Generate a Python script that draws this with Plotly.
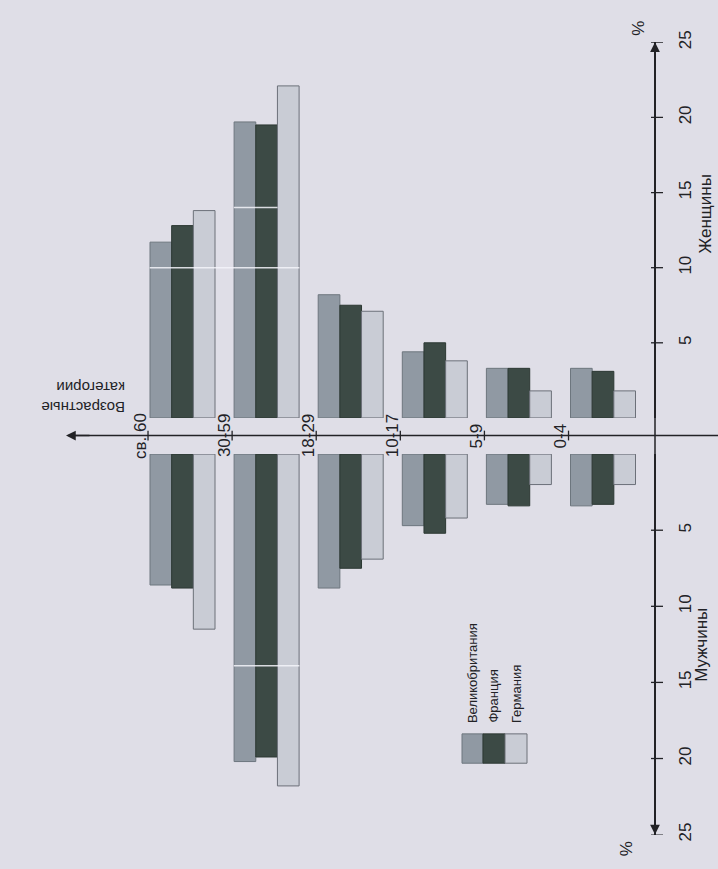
import plotly.graph_objects as go

# Age groups, oldest first
categories = ["св. 60", "30-59", "18-29", "10-17", "5-9", "0-4"]
countries = ["Великобритания", "Франция", "Германия"]

# Share of population, %
women_uk = [11.7, 19.7, 8.2, 4.4, 3.3, 3.3]
women_fr = [12.8, 19.5, 7.5, 5.0, 3.3, 3.1]
women_de = [13.8, 22.1, 7.1, 3.8, 1.8, 1.8]
men_uk = [8.6, 20.2, 8.8, 4.7, 3.3, 3.4]
men_fr = [8.8, 19.9, 7.5, 5.2, 3.4, 3.3]
men_de = [11.5, 21.8, 6.9, 4.2, 2.0, 2.0]

pct_ticks = [5, 10, 15, 20, 25]

W, H = 718, 869
BG = "#dfdee7"
INK = "#222226"
FONT = "Liberation Sans, Arial, sans-serif"
colors = ["#9099a3", "#3c4a45", "#c9ccd5"]
edges = ["#6d767e", "#2c3833", "#6c7079"]


def px(x):
    return x / W


def py(y):
    return 1 - y / H


idx = list(range(len(categories)))
AX_X = 655          # vertical (percent) axis position, px
AGE_Y = 433         # age axis position, px

fig = go.Figure()
for vals, name, c, e in zip([women_uk, women_fr, women_de], countries, colors, edges):
    fig.add_trace(go.Bar(x=idx, y=vals, name=name, marker=dict(color=c, line=dict(color=e, width=1)),
                         xaxis="x", yaxis="y", showlegend=False, hoverinfo="skip"))
for vals, name, c, e in zip([men_uk, men_fr, men_de], countries, colors, edges):
    fig.add_trace(go.Bar(x=idx, y=vals, name=name, marker=dict(color=c, line=dict(color=e, width=1)),
                         xaxis="x", yaxis="y2", showlegend=False, hoverinfo="skip"))

tickfont = dict(family=FONT, size=17, color=INK)
axis_common = dict(showgrid=False, zeroline=False, showline=True, linecolor=INK, linewidth=1.5,
                   anchor="free", position=px(AX_X), side="right", tickvals=pct_ticks,
                   ticktext=[str(v) for v in pct_ticks], tickangle=-90, ticks="",
                   ticklabelstandoff=15, tickfont=tickfont)

fig.update_layout(
    width=W, height=H, margin=dict(l=0, r=0, t=0, b=0),
    paper_bgcolor=BG, plot_bgcolor="rgba(0,0,0,0)",
    barmode="group", bargap=0.227, bargroupgap=0,
    xaxis=dict(domain=[0, 1], range=[(0 - 182.5) / 84.1, (W - 182.5) / 84.1], visible=False,
               anchor="y", fixedrange=True),
    yaxis=dict(domain=[py(415), py(31)], range=[0, 25], **axis_common),
    yaxis2=dict(domain=[py(841), py(452)], range=[25, 0], **axis_common),
)

shapes = []
# vertical axis segment through the age axis gap
shapes.append(dict(type="line", xref="paper", yref="paper", x0=px(AX_X), x1=px(AX_X),
                   y0=py(452), y1=py(415), line=dict(color=INK, width=1.5)))
# crossing tick marks on the percent axis
for v in pct_ticks:
    for yr in ("y", "y2"):
        shapes.append(dict(type="line", xref="paper", yref=yr, x0=px(AX_X - 4), x1=px(AX_X + 8),
                           y0=v, y1=v, line=dict(color=INK, width=1.3)))
# age axis line
shapes.append(dict(type="line", xref="paper", yref="paper", x0=px(72), x1=1,
                   y0=py(AGE_Y), y1=py(AGE_Y), line=dict(color=INK, width=1.5)))
# age group tick marks
for i in idx:
    shapes.append(dict(type="line", xref="x", yref="paper", x0=i - 0.41, x1=i - 0.41,
                       y0=py(AGE_Y - 5), y1=py(AGE_Y + 5), line=dict(color=INK, width=1.3)))
# pale print streaks across the tallest bars
streak = dict(color="rgba(245,245,250,0.85)", width=1.5)
shapes.append(dict(type="line", xref="x", yref="y", x0=-0.39, x1=1.39, y0=10, y1=10,
                   line=streak, layer="above"))
shapes.append(dict(type="line", xref="x", yref="y", x0=0.61, x1=1.13, y0=14, y1=14,
                   line=streak, layer="above"))
shapes.append(dict(type="line", xref="x", yref="y2", x0=0.61, x1=1.39, y0=13.9, y1=13.9,
                   line=streak, layer="above"))

# legend swatches
sw_x = [462, 483, 505, 527]
for k in range(3):
    shapes.append(dict(type="rect", xref="paper", yref="paper", x0=px(sw_x[k]), x1=px(sw_x[k + 1]),
                       y0=py(768), y1=py(738), fillcolor=colors[k],
                       line=dict(color=edges[k], width=1)))

annotations = []
arrow = dict(text="", showarrow=True, arrowhead=2, arrowsize=1.3, arrowwidth=1.5, arrowcolor=INK)
annotations.append(dict(xref="paper", yref="y", x=px(AX_X), y=25, ax=0, ay=25, **arrow))
annotations.append(dict(xref="paper", yref="y2", x=px(AX_X), y=25, ax=0, ay=-25, **arrow))
annotations.append(dict(xref="paper", yref="paper", x=px(66), y=py(AGE_Y), ax=25, ay=0, **arrow))


def label(x, y, text, size=17, angle=-90, xanchor="center", yanchor="middle", **kw):
    return dict(xref=kw.pop("xref", "paper"), yref="paper", x=x, y=y, text=text, showarrow=False,
                textangle=angle, xanchor=xanchor, yanchor=yanchor,
                font=dict(family=FONT, size=size, color=INK), **kw)


# age group labels on the axis
for i, c in zip(idx, categories):
    annotations.append(label(i - 0.5, py(AGE_Y), c, size=17, xref="x"))
# axis titles
annotations.append(label(px(127), py(394), "Возрастные<br>категории", size=15, angle=180,
                         xanchor="right", align="left"))
annotations.append(label(px(705), py(207), "Женщины"))
annotations.append(label(px(702), py(647), "Мужчины"))
annotations.append(label(px(639), py(17), "%"))
annotations.append(label(px(626), py(856), "%"))
# legend labels
lab_x = [472, 494, 516]
for k in range(3):
    annotations.append(label(px(lab_x[k]), py(729), countries[k], size=13, yanchor="bottom"))

fig.update_layout(shapes=shapes, annotations=annotations)
fig.write_html("out.html")
